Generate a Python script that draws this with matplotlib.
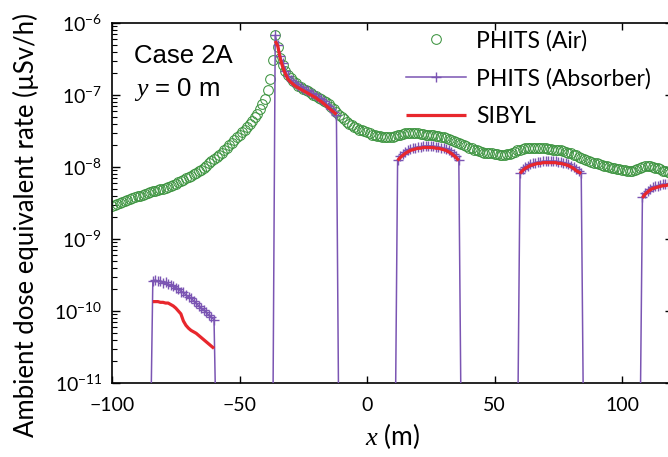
import numpy as np
import matplotlib
matplotlib.use("Agg")
import matplotlib.pyplot as plt

# Dose-rate profiles along y = 0 m, stored as log10(uSv/h) on a 1 m grid.
air_x0 = -100
air_log10 = [
    -8.54, -8.53, -8.51, -8.50, -8.49, -8.47, -8.46, -8.45, -8.43, -8.42,
    -8.41, -8.40, -8.39, -8.38, -8.36, -8.35, -8.34, -8.33, -8.32, -8.31,
    -8.30, -8.29, -8.28, -8.26, -8.25, -8.23, -8.21, -8.20, -8.18, -8.16,
    -8.14, -8.12, -8.10, -8.08, -8.06, -8.04, -8.01, -7.98, -7.95, -7.92,
    -7.89, -7.86, -7.83, -7.80, -7.76, -7.73, -7.70, -7.66, -7.63, -7.59,
    -7.56, -7.52, -7.49, -7.45, -7.40, -7.36, -7.31, -7.26, -7.20, -7.13,
    -7.05, -6.93, -6.78, -6.52, -6.17, -6.33, -6.48, -6.58, -6.66, -6.72,
    -6.77, -6.81, -6.84, -6.87, -6.89, -6.91, -6.93, -6.95, -6.97, -7.00,
    -7.02, -7.04, -7.06, -7.08, -7.10, -7.13, -7.16, -7.20, -7.24, -7.28,
    -7.31, -7.34, -7.37, -7.40, -7.42, -7.44, -7.46, -7.48, -7.49, -7.50,
    -7.52, -7.53, -7.55, -7.56, -7.57, -7.57, -7.58, -7.58, -7.59, -7.59,
    -7.58, -7.57, -7.56, -7.55, -7.54, -7.53, -7.53, -7.53, -7.53, -7.53,
    -7.53, -7.54, -7.54, -7.55, -7.55, -7.56, -7.56, -7.57, -7.57, -7.58,
    -7.59, -7.60, -7.61, -7.62, -7.64, -7.65, -7.67, -7.68, -7.70, -7.71,
    -7.73, -7.74, -7.76, -7.77, -7.78, -7.79, -7.80, -7.80, -7.81, -7.81,
    -7.82, -7.82, -7.83, -7.83, -7.83, -7.82, -7.82, -7.80, -7.79, -7.77,
    -7.76, -7.75, -7.74, -7.73, -7.73, -7.73, -7.73, -7.73, -7.73, -7.74,
    -7.74, -7.75, -7.75, -7.76, -7.76, -7.77, -7.77, -7.78, -7.79, -7.80,
    -7.81, -7.83, -7.84, -7.86, -7.87, -7.89, -7.90, -7.92, -7.93, -7.94,
    -7.95, -7.96, -7.97, -7.98, -7.99, -8.00, -8.01, -8.02, -8.03, -8.03,
    -8.04, -8.04, -8.05, -8.05, -8.05, -8.04, -8.03, -8.02, -8.00, -7.99,
    -7.99, -7.99, -8.00, -8.01, -8.02, -8.03, -8.05, -8.06, -8.07, -8.08,
    -8.09,
]

# absorber segments: start position (m) and values every 1 m
seg_x0 = [-84, -36, 12, 60, 108]
absorber_log10 = [
    [-9.58, -9.57, -9.59, -9.58, -9.61, -9.60, -9.63, -9.64, -9.66, -9.68,
     -9.69, -9.73, -9.74, -9.78, -9.80, -9.82, -9.86, -9.89, -9.93, -9.96,
     -9.99, -10.02, -10.06, -10.09, -10.12],
    [-6.17, -6.31, -6.46, -6.56, -6.66, -6.74, -6.79, -6.82, -6.85, -6.87,
     -6.89, -6.91, -6.93, -6.95, -6.97, -6.99, -7.01, -7.04, -7.06, -7.09,
     -7.12, -7.15, -7.19, -7.23, -7.28],
    [-7.90, -7.85, -7.82, -7.79, -7.77, -7.75, -7.74, -7.73, -7.72, -7.72,
     -7.71, -7.71, -7.71, -7.71, -7.71, -7.72, -7.72, -7.73, -7.74, -7.75,
     -7.77, -7.79, -7.82, -7.85, -7.90],
    [-8.08, -8.03, -8.00, -7.98, -7.96, -7.95, -7.94, -7.93, -7.93, -7.92,
     -7.92, -7.92, -7.92, -7.92, -7.92, -7.93, -7.93, -7.94, -7.95, -7.96,
     -7.98, -8.00, -8.03, -8.06, -8.08],
    [-8.42, -8.36, -8.33, -8.30, -8.28, -8.27, -8.26, -8.25, -8.24, -8.24,
     -8.23, -8.23, -8.23, -8.23],
]
sibyl_log10 = [
    [-9.87, -9.87, -9.87, -9.88, -9.88, -9.89, -9.89, -9.91, -9.93, -9.96,
     -10.00, -10.04, -10.14, -10.20, -10.24, -10.27, -10.29, -10.31, -10.34, -10.37,
     -10.40, -10.43, -10.46, -10.49, -10.52],
    [-6.25, -6.32, -6.50, -6.62, -6.71, -6.78, -6.82, -6.85, -6.88, -6.90,
     -6.92, -6.94, -6.96, -6.98, -7.00, -7.02, -7.04, -7.07, -7.09, -7.12,
     -7.15, -7.18, -7.21, -7.24, -7.27],
    [-7.91, -7.87, -7.84, -7.81, -7.79, -7.77, -7.76, -7.75, -7.74, -7.74,
     -7.73, -7.73, -7.73, -7.73, -7.73, -7.74, -7.74, -7.75, -7.76, -7.77,
     -7.79, -7.81, -7.84, -7.87, -7.91],
    [-8.09, -8.05, -8.02, -8.00, -7.98, -7.97, -7.96, -7.95, -7.95, -7.94,
     -7.94, -7.94, -7.94, -7.94, -7.94, -7.95, -7.95, -7.96, -7.97, -7.98,
     -8.00, -8.02, -8.05, -8.07, -8.09],
    [-8.43, -8.38, -8.35, -8.32, -8.30, -8.29, -8.28, -8.27, -8.26, -8.26,
     -8.25, -8.25, -8.25, -8.25],
]
# value outside the absorber strips (below the plotted range)
floor_log10 = -12

GREEN = "#3d9440"
PURPLE = "#7b55b3"
RED = "#e8272d"

plt.rcParams["font.family"] = ["Lato", "DejaVu Sans"]
plt.rcParams["mathtext.fontset"] = "custom"
plt.rcParams["mathtext.it"] = "Liberation Serif:italic"
plt.rcParams["mathtext.rm"] = "Lato"

fig = plt.figure(figsize=(6.68, 4.57), dpi=100)
ax = fig.add_axes([0.1677, 0.162, 0.8398, 0.7877])

air_x = air_x0 + np.arange(len(air_log10))
ax.plot(air_x, 10.0 ** np.array(air_log10), "o", ls="none", mfc="none",
        mec=GREEN, ms=7, mew=0.75, label="PHITS (Air)", zorder=2)

# absorber: one polyline dropping to the floor between strips
ab_x, ab_y = [], []
for x0, vals in zip(seg_x0, absorber_log10):
    xs = x0 + np.arange(len(vals))
    ab_x += [x0 - 1] + list(xs)
    ab_y += [floor_log10] + list(vals)
    if xs[-1] < 120:
        ab_x.append(xs[-1] + 1)
        ab_y.append(floor_log10)
ax.plot(ab_x, 10.0 ** np.array(ab_y, dtype=float), color=PURPLE, lw=1.1,
        marker="+", ms=6.5, mew=1.0, label="PHITS (Absorber)", zorder=3)

for i, (x0, vals) in enumerate(zip(seg_x0, sibyl_log10)):
    xs = x0 + np.arange(len(vals))
    ax.plot(xs, 10.0 ** np.array(vals), color=RED, lw=2.3, solid_capstyle="butt",
            label="SIBYL" if i == 0 else None, zorder=4)

ax.set_yscale("log")
ax.set_xlim(-100, 120)
ax.set_ylim(1e-11, 1e-6)
ax.set_xticks([-100, -50, 0, 50, 100])

ax.tick_params(which="both", direction="in", top=True, right=True, labelsize=14)
ax.tick_params(axis="x", which="major", length=5, width=1.0, pad=10)
ax.tick_params(axis="y", which="major", length=6, width=1.0, pad=7)
ax.tick_params(axis="y", which="minor", length=3.5, width=0.8)
for sp in ax.spines.values():
    sp.set_linewidth(1.2)

ax.set_xlabel("$x$ (m)", fontsize=19, labelpad=5)
ax.set_ylabel("Ambient dose equivalent rate (\u00b5Sv/h)", fontsize=18.5)
ax.yaxis.set_label_coords(-0.131, 0.44)

fig.text(134 / 668, 1 - 63 / 457, "Case 2A", fontsize=18.5,
         family="Liberation Sans")
fig.text(134 / 668, 1 - 96 / 457, "$y$ = 0 m", fontsize=18.5,
         family="Liberation Sans")

ax.legend(loc="upper left", bbox_to_anchor=(406 / 668, 0.935),
          bbox_transform=fig.transFigure, frameon=False, fontsize=16.5,
          numpoints=1, handlelength=2.6, handletextpad=0.45,
          labelspacing=0.72, borderpad=0, borderaxespad=0)

fig.savefig("out.png", dpi=100)
